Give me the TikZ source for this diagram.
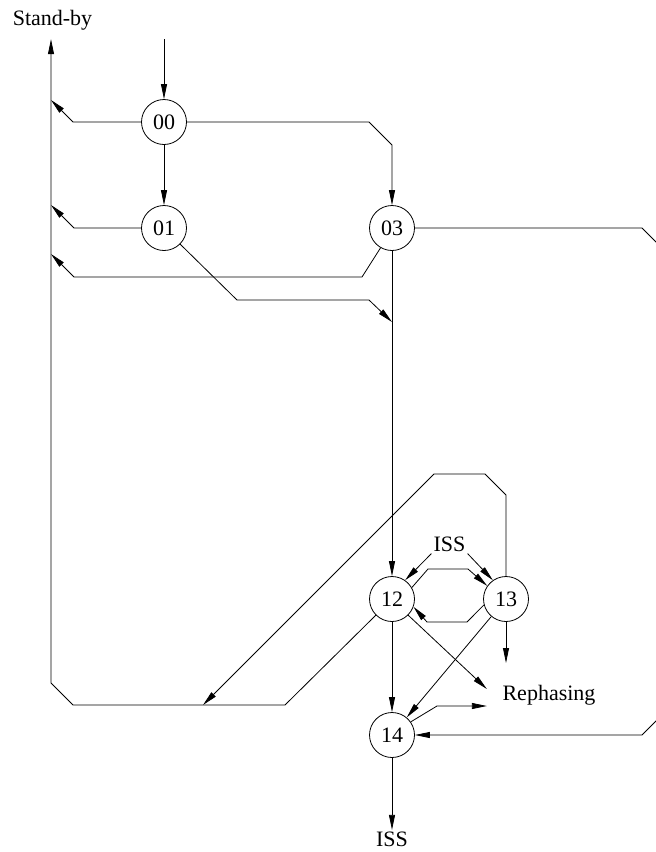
\documentclass[tikz,border=0pt]{standalone}
\usepackage{fontspec}
\setmainfont{Liberation Serif}
\usetikzlibrary{arrows.meta}
\tikzset{
  state/.style={
    circle,
    draw=black,
    line width=0.8pt,
    minimum size=45pt,
    inner sep=0pt,
    font=\fontsize{22}{26}\selectfont
  },
  note/.style={
    inner sep=2pt,
    font=\fontsize{22}{26}\selectfont
  },
  arrow/.style={
    -{Triangle[length=15pt,width=6pt]},
    line width=0.8pt
  }
}

\begin{document}
\begin{tikzpicture}[x=1pt,y=-1pt]
\useasboundingbox (0,0) rectangle (656,852);
\clip (0,0) rectangle (656,852);

\node[state] (s00) at (164,122) {00};
\node[state] (s01) at (164,228) {01};
\node[state] (s03) at (392,228) {03};
\node[state] (s12) at (392,599) {12};
\node[state] (s13) at (506,599) {13};
\node[state] (s14) at (392,735) {14};

\node[note] (standby) at (52.5,20) {Stand-by};
\node[note] (issin) at (449.5,544) {ISS};
\node[note] (reph) at (549,695.6) {Rephasing};
\node[note] (issout) at (392,839.5) {ISS};

\coordinate (start) at (164,39);
\coordinate (sb00) at (51,100);
\coordinate (sb01) at (51,205);
\coordinate (sb03) at (51,254);
\coordinate (j03) at (392,322);
\coordinate (jbot) at (203,705);
\coordinate (r13) at (506,663);

\draw[arrow] (start) -- (s00);
\draw[arrow] (s00) -- (s01);
\draw[arrow] (s00.west) -- (73,122) -- (sb00);
\draw[arrow] (s00.east) -- (369,122) -- (392,145) -- (s03.north);
\draw[arrow] (s01.west) -- (74,228) -- (sb01);
\draw[arrow] (s03.240) -- (362,277) -- (74,277) -- (sb03);
\draw[arrow] (s01.-45) -- (237,300) -- (369,300) -- (j03);
\draw[arrow] (s03) -- (s12);
\draw[arrow] (s03.east) -- (642,228) -- (672,258) -- (672,705) -- (642,735) -- (s14.east);

\draw[arrow] (s12.225) -- (285,705) -- (73,705) -- (51,683) -- ([xshift=-1.5pt,yshift=-7pt]standby.south);
\draw[arrow] (s13.north) -- (506,495) -- (485,474) -- (434,474) -- (jbot);

\draw[arrow] (issin.south west) -- (s12.55);
\draw[arrow] (issin.south east) -- (s13.125);
\draw[arrow] (s12.30) -- (428,569) -- (468,569) -- (s13.145);
\draw[arrow] (s13.195) -- (467,622) -- (427,622) -- (s12.-20);

\draw[arrow] (s12) -- (s14);
\draw[arrow] (s12.-45) -- ([xshift=-13.5pt,yshift=6.6pt]reph.west);
\draw[arrow] (s13.230) -- (s14.50);
\draw[arrow] (s13) -- (r13);
\draw[arrow] (s14.35) -- (437,706) -- ([xshift=-13.5pt,yshift=-10.4pt]reph.west);
\draw[arrow] (s14) -- (issout);

\end{tikzpicture}
\end{document}
